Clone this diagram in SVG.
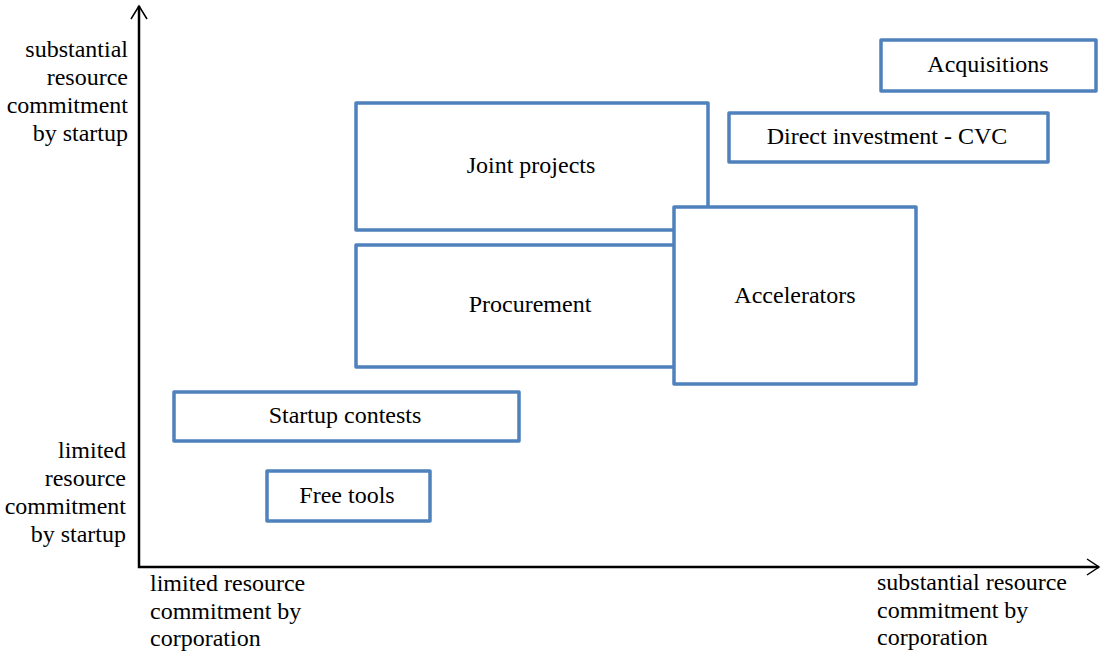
<svg xmlns="http://www.w3.org/2000/svg" width="1102" height="653" viewBox="0 0 1102 653">
  <style>
    .box { fill: #ffffff; stroke: #4F81BD; stroke-width: 3.5; stroke-linejoin: round; }
    text { font-family: 'Liberation Serif', 'Times New Roman', serif; font-size: 24px; fill: #000000; }
    .mid { text-anchor: middle; }
    .end { text-anchor: end; }
    .axis { fill: none; stroke: #000000; stroke-width: 2.5; }
    .head { fill: none; stroke: #000000; stroke-width: 1.5; }
  </style>

  <!-- axes -->
  <g id="connectors">
    <path class="axis" d="M139,6 L139,567 L1099,567"/>
    <path class="head" d="M131,19 L139,6 L147,19"/>
    <path class="head" d="M1087,559 L1099,567 L1087,575"/>
  </g>

  <!-- axis end labels -->
  <g id="y-high">
    <text class="end" x="128" y="57">substantial</text>
    <text class="end" x="128" y="85">resource</text>
    <text class="end" x="128" y="113">commitment</text>
    <text class="end" x="128" y="141">by startup</text>
  </g>
  <g id="y-low">
    <text class="end" x="126" y="458">limited</text>
    <text class="end" x="126" y="486">resource</text>
    <text class="end" x="126" y="514">commitment</text>
    <text class="end" x="126" y="542">by startup</text>
  </g>
  <g id="x-low">
    <text x="150" y="591">limited resource</text>
    <text x="150" y="619">commitment by</text>
    <text x="150" y="646">corporation</text>
  </g>
  <g id="x-high">
    <text x="877" y="590">substantial resource</text>
    <text x="877" y="618">commitment by</text>
    <text x="877" y="645">corporation</text>
  </g>

  <!-- engagement modes -->
  <g id="joint-projects">
    <rect class="box" x="356" y="103" width="352" height="127"/>
    <text class="mid" x="531" y="173">Joint projects</text>
  </g>
  <g id="procurement">
    <rect class="box" x="356" y="245" width="350" height="122"/>
    <text class="mid" x="530" y="312">Procurement</text>
  </g>
  <g id="accelerators">
    <rect class="box" x="674" y="207" width="242" height="177"/>
    <text class="mid" x="795" y="303">Accelerators</text>
  </g>
  <g id="acquisitions">
    <rect class="box" x="881" y="40" width="215" height="51"/>
    <text class="mid" x="988" y="72">Acquisitions</text>
  </g>
  <g id="direct-investment">
    <rect class="box" x="729" y="113" width="319" height="49"/>
    <text class="mid" x="887" y="144">Direct investment - CVC</text>
  </g>
  <g id="startup-contests">
    <rect class="box" x="174" y="392" width="345" height="49"/>
    <text class="mid" x="345" y="423">Startup contests</text>
  </g>
  <g id="free-tools">
    <rect class="box" x="267" y="471" width="163" height="50"/>
    <text class="mid" x="347" y="503">Free tools</text>
  </g>
</svg>
